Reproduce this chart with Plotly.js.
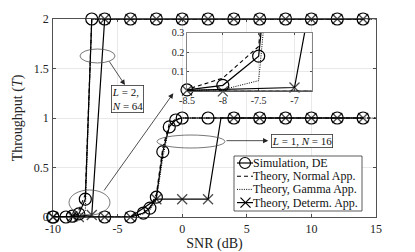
<!DOCTYPE html>
<html><head><meta charset="utf-8">
<script src="https://cdn.plot.ly/plotly-3.0.1.min.js"></script>
<style>html,body{margin:0;padding:0;background:#fff;} #chart{width:415px;height:252px;}</style>
</head><body><div id="chart"></div>
<script>
// ---- data: L = 2, N = 64 ----
const simX_L2 = [-10, -9, -8.5, -8, -7.5, -7, -6, -4, -2, 0, 2, 4, 6, 8, 10, 12, 14];
const simY_L2 = [0, 0, 0.008, 0.031, 0.18, 2, 2, 2, 2, 2, 2, 2, 2, 2, 2, 2, 2];
const normX_L2 = [-10, -9, -8.5, -8, -7.5, -7, -5, 0, 5, 10, 15];
const normY_L2 = [0, 0, 0.01, 0.068, 0.23, 2, 2, 2, 2, 2, 2];
const gamX_L2 = [-10, -9, -8.5, -8, -7.5, -7, -5, 0, 5, 10, 15];
const gamY_L2 = [0, 0, 0.005, 0.009, 0.055, 2, 2, 2, 2, 2, 2];
const detX_L2 = [-10, -8.5, -7, -6, -4, -2, 0, 2, 4, 6, 8, 10, 12, 14];
const detY_L2 = [0, 0.005, 0.02, 2, 2, 2, 2, 2, 2, 2, 2, 2, 2, 2];
// ---- data: L = 1, N = 16 ----
const simX_L1 = [-10, -6, -4, -3, -2.5, -2, -1.5, -1, -0.5, 0, 2, 4, 6, 8, 10, 12, 14];
const simY_L1 = [0, 0, 0, 0.04, 0.09, 0.2, 0.66, 0.91, 0.98, 1, 1, 1, 1, 1, 1, 1, 1];
const normX_L1 = [-10, -4, -3, -2.5, -2, -1.5, -1, -0.5, 0, 5, 10, 15];
const normY_L1 = [0, 0, 0.04, 0.1, 0.23, 0.7, 0.94, 0.99, 1, 1, 1, 1];
const gamX_L1 = [-10, -4, -3, -2.5, -2, -1.5, -1, -0.5, 0, 5, 10, 15];
const gamY_L1 = [0, 0, 0.03, 0.07, 0.17, 0.6, 0.92, 0.99, 1, 1, 1, 1];
const detX_L1 = [-10, -8, -6, -4, -2, 0, 2, 3, 4, 6, 8, 10, 12, 14];
const detY_L1 = [0, 0, 0, 0, 0.18, 0.18, 0.18, 1, 1, 1, 1, 1, 1, 1];
const detMarked_L1 = [true, true, true, true, true, true, true, false, true, true, true, true, true, true];
// ---- ticks ----
const xTicks = [-10, -5, 0, 5, 10, 15];
const xTickText = ['-10', '-5', '0', '5', '10', '15'];
const yTicks = [0, 0.5, 1, 1.5, 2];
const yTickText = ['0', '0.5', '1', '1.5', '2'];
const inXTicks = [-8.5, -8, -7.5, -7];
const inXTickText = ['-8.5', '-8', '-7.5', '-7'];
const inYTicks = [0.1, 0.2, 0.3];
const inYTickText = ['0.1', '0.2', '0.3'];
const legendNames = ['Simulation, DE', 'Theory, Normal App.', 'Theory, Gamma App.', 'Theory, Determ. App.'];

const K = '#000';
function sim(x, y, ax) {
  return {x, y, xaxis: 'x' + ax, yaxis: 'y' + ax, mode: 'lines+markers', cliponaxis: false,
    line: {color: K, width: 1.2}, marker: {symbol: 'circle-open', size: 12, color: K, line: {width: 1.2, color: K}}};
}
function norm(x, y, ax) {
  return {x, y, xaxis: 'x' + ax, yaxis: 'y' + ax, mode: 'lines', line: {color: K, width: 1.1, dash: '4px,3px'}};
}
function gam(x, y, ax) {
  return {x, y, xaxis: 'x' + ax, yaxis: 'y' + ax, mode: 'lines', line: {color: K, width: 1, dash: '1px,1.3px'}};
}
function det(x, y, ax, marked) {
  const sizes = x.map((v, i) => (marked && !marked[i]) ? 0 : 10);
  return {x, y, xaxis: 'x' + ax, yaxis: 'y' + ax, mode: 'lines+markers', cliponaxis: false,
    line: {color: K, width: 1.2}, marker: {symbol: 'x-thin-open', size: sizes, color: K, line: {width: 1.3, color: K}}};
}
const traces = [];
['', '2'].forEach(ax => {
  traces.push(norm(normX_L1, normY_L1, ax), gam(gamX_L1, gamY_L1, ax), sim(simX_L1, simY_L1, ax), det(detX_L1, detY_L1, ax, detMarked_L1));
  traces.push(norm(normX_L2, normY_L2, ax), gam(gamX_L2, gamY_L2, ax), sim(simX_L2, simY_L2, ax), det(detX_L2, detY_L2, ax, null));
});

// pixel -> paper helpers (plot area: x 53..376, y 19..217)
const PX = px => (px - 53) / 323;
const PY = py => (217 - py) / 198;

const axisCommon = {showgrid: true, gridcolor: '#e4e4e4', gridwidth: 0.8, zeroline: false, showline: true,
  linecolor: '#262626', linewidth: 0.8, mirror: 'ticks', ticks: 'inside', ticklen: 3, tickwidth: 0.8, tickcolor: '#262626'};

const shapes = [
  // ellipses
  {type: 'circle', xref: 'x', yref: 'y', x0: -7.91, x1: -5.2, y0: 1.556, y1: 1.697, line: {color: '#555', width: 0.8}},
  {type: 'circle', xref: 'x', yref: 'y', x0: -1.95, x1: 3.31, y0: 0.697, y1: 0.828, line: {color: '#555', width: 0.8}},
  {type: 'circle', xref: 'x', yref: 'y', x0: -8.76, x1: -5.59, y0: 0.02, y1: 0.273, line: {color: '#555', width: 0.8}},
  // legend box
  {type: 'rect', xref: 'paper', yref: 'paper', x0: PX(234), x1: PX(362), y0: PY(211), y1: PY(156), line: {color: '#333', width: 0.8}, fillcolor: '#fff', layer: 'above'}
];
const rows = [163, 176.2, 189.4, 202.6];
const lx0 = PX(237), lx1 = PX(253);
shapes.push({type: 'line', xref: 'paper', yref: 'paper', x0: lx0, x1: lx1, y0: PY(rows[0]), y1: PY(rows[0]), line: {color: K, width: 1.2}});
shapes.push({type: 'circle', xref: 'paper', yref: 'paper', x0: PX(239.5), x1: PX(250.5), y0: PY(rows[0] + 5.5), y1: PY(rows[0] - 5.5), line: {color: K, width: 1.2}});
shapes.push({type: 'line', xref: 'paper', yref: 'paper', x0: lx0, x1: lx1, y0: PY(rows[1]), y1: PY(rows[1]), line: {color: K, width: 1.1, dash: '4px,3px'}});
shapes.push({type: 'line', xref: 'paper', yref: 'paper', x0: lx0, x1: lx1, y0: PY(rows[2]), y1: PY(rows[2]), line: {color: K, width: 1, dash: '1px,1.3px'}});
shapes.push({type: 'line', xref: 'paper', yref: 'paper', x0: lx0, x1: lx1, y0: PY(rows[3]), y1: PY(rows[3]), line: {color: K, width: 1.2}});
shapes.push({type: 'line', xref: 'paper', yref: 'paper', x0: PX(240.5), x1: PX(250.5), y0: PY(rows[3] - 5), y1: PY(rows[3] + 5), line: {color: K, width: 1.2}});
shapes.push({type: 'line', xref: 'paper', yref: 'paper', x0: PX(240.5), x1: PX(250.5), y0: PY(rows[3] + 5), y1: PY(rows[3] - 5), line: {color: K, width: 1.2}});

const annotations = [
  // arrows
  {xref: 'x', yref: 'y', axref: 'x', ayref: 'y', x: -4.43, y: 1.333, ax: -5.72, ay: 1.586, text: '', showarrow: true, arrowhead: 2, arrowsize: 1.3, arrowwidth: 0.8, arrowcolor: '#222'},
  {xref: 'x', yref: 'y', axref: 'x', ayref: 'y', x: 6.66, y: 0.771, ax: 3.31, ay: 0.771, text: '', showarrow: true, arrowhead: 2, arrowsize: 1.3, arrowwidth: 0.8, arrowcolor: '#222'},
  {xref: 'x', yref: 'y', axref: 'x', ayref: 'y', x: -0.69, y: 1.249, ax: -6.13, ay: 0.253, text: '', showarrow: true, arrowhead: 2, arrowsize: 1.3, arrowwidth: 0.8, arrowcolor: '#222'},
  // label boxes
  {xref: 'x', yref: 'y', x: -4.23, y: 1.197, text: '<i>L</i> = 2,<br><i>N</i> = 64', showarrow: false, align: 'left',
    font: {size: 11, color: '#111'}, bordercolor: '#333', borderwidth: 0.8, borderpad: 0, bgcolor: '#fff'},
  {xref: 'x', yref: 'y', x: 9.31, y: 0.768, text: '<i>L</i> = 1, <i>N</i> = 16', showarrow: false,
    font: {size: 11, color: '#111'}, bordercolor: '#333', borderwidth: 0.8, borderpad: 0, bgcolor: '#fff'}
];
legendNames.forEach((t, i) => {
  annotations.push({xref: 'paper', yref: 'paper', x: PX(252), y: PY(rows[i]), xanchor: 'left', yanchor: 'middle',
    text: t, showarrow: false, font: {size: 12, color: '#111'}, borderpad: 0});
});

const layout = {
  width: 415, height: 252, margin: {l: 53, r: 39, t: 19, b: 35},
  paper_bgcolor: '#fff', plot_bgcolor: '#fff', showlegend: false,
  font: {family: 'Liberation Serif, serif', size: 12, color: '#222'},
  xaxis: Object.assign({}, axisCommon, {range: [-10, 15], tickvals: xTicks, ticktext: xTickText, ticklabelstandoff: 1,
    title: {text: 'SNR (dB)', font: {size: 14}, standoff: 3}}),
  yaxis: Object.assign({}, axisCommon, {range: [0, 2], tickvals: yTicks, ticktext: yTickText, ticklabelstandoff: 1,
    title: {text: 'Throughput (<i>T</i>)', font: {size: 14}, standoff: 7}}),
  xaxis2: Object.assign({}, axisCommon, {domain: [PX(187), PX(311.7)], anchor: 'y2', range: [-8.5, -6.76],
    tickvals: inXTicks, ticktext: inXTickText, tickfont: {size: 10}, linecolor: '#666', ticklen: 2}),
  yaxis2: Object.assign({}, axisCommon, {domain: [PY(91.4), PY(32.7)], anchor: 'x2', range: [0, 0.3],
    tickvals: inYTicks, ticktext: inYTickText, tickfont: {size: 10}, linecolor: '#666', ticklen: 2}),
  shapes, annotations
};
Plotly.newPlot('chart', traces, layout, {staticPlot: true, displayModeBar: false});
</script></body></html>
